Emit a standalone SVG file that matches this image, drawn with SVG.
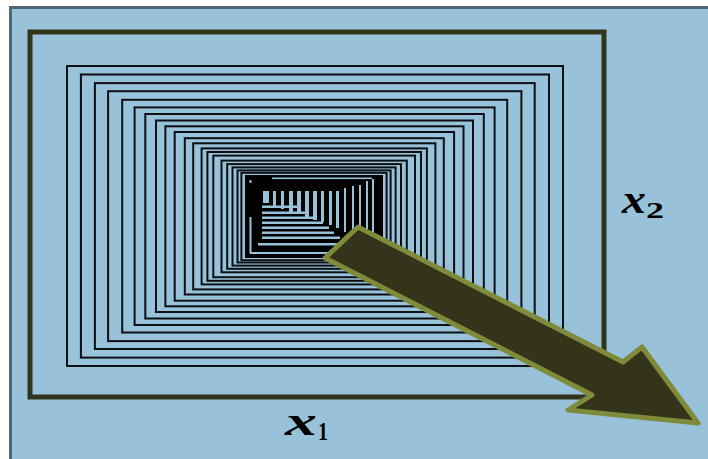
<svg xmlns="http://www.w3.org/2000/svg" width="708" height="459" viewBox="0 0 708 459">
<style>
.tun rect{fill:none;stroke:#0d0f12;stroke-width:2}
.lb{fill:#98c1da}
.lbl{font-family:"Liberation Serif","Times New Roman",serif;font-weight:bold;font-style:italic;fill:#000}
.sub{font-family:"Liberation Serif","Times New Roman",serif;font-weight:bold;fill:#000}
</style>
<rect width="708" height="459" fill="#ffffff"/>
<rect x="10" y="7" width="698" height="452" fill="#98c1da"/>
<path d="M10.5,459 V7.5 H708" stroke="#4f6878" stroke-width="3" fill="none"/>
<g id="frame">
<rect x="30" y="32" width="574" height="365" fill="none" stroke="#33351a" stroke-width="5"/>
</g>
<g id="tunnel" class="tun">
<rect x="67" y="66" width="496" height="300"/>
<rect x="80.9" y="74.5" width="468.1" height="283.1"/>
<rect x="94.9" y="83.1" width="439.8" height="265.9"/>
<rect x="108.1" y="91.2" width="413.3" height="249.9"/>
<rect x="122.2" y="99.8" width="385" height="232.7"/>
<rect x="134.6" y="107.4" width="360" height="217.6"/>
<rect x="145.3" y="114" width="338.5" height="204.5"/>
<rect x="156" y="120.5" width="317" height="191.5"/>
<rect x="165.4" y="126.3" width="298.1" height="180"/>
<rect x="174.7" y="132" width="279.4" height="168.7"/>
<rect x="184.8" y="138.2" width="259" height="156.3"/>
<rect x="193.2" y="143.3" width="242.2" height="146.1"/>
<rect x="201.6" y="148.4" width="225.3" height="136"/>
<rect x="207.4" y="152" width="213.6" height="128.8"/>
<rect x="213.3" y="155.6" width="201.7" height="121.6"/>
<rect x="221.5" y="160.6" width="185.3" height="111.7"/>
<rect x="227.2" y="164.1" width="173.8" height="104.7"/>
<rect x="232.5" y="167.4" width="163.1" height="98.2"/>
<rect x="237.5" y="170.4" width="153.1" height="92.1"/>
<rect x="241.4" y="172.8" width="145.2" height="87.4"/>
</g>
<g id="core">
<rect x="245" y="175" width="138" height="83" fill="#000"/>
<rect class="lb" x="272" y="177.5" width="100" height="1.6"/>
<rect class="lb" x="249.5" y="180" width="2" height="3"/>
<rect class="lb" x="344" y="188" width="2" height="44"/>
<rect class="lb" x="352" y="186" width="2" height="49"/>
<rect class="lb" x="359" y="185" width="2" height="53"/>
<rect class="lb" x="366" y="181" width="2" height="62"/>
<rect class="lb" x="372" y="179" width="2" height="71"/>
<rect class="lb" x="263" y="191" width="6" height="12"/>
<rect class="lb" x="273" y="191" width="3" height="15"/>
<rect class="lb" x="281" y="191" width="3" height="18"/>
<rect class="lb" x="289" y="191" width="4" height="21"/>
<rect class="lb" x="297" y="191" width="4" height="23"/>
<rect class="lb" x="305" y="191" width="4" height="26"/>
<rect class="lb" x="313" y="191" width="4" height="29"/>
<rect class="lb" x="321" y="191" width="3" height="31"/>
<rect class="lb" x="329" y="191" width="3" height="34"/>
<rect class="lb" x="336" y="191" width="3" height="37"/>
<rect class="lb" x="262" y="205.5" width="36" height="2.5"/>
<rect class="lb" x="262" y="211.5" width="46" height="2.5"/>
<rect class="lb" x="262" y="216.5" width="54" height="2.5"/>
<rect class="lb" x="262" y="221.5" width="61" height="2.5"/>
<rect class="lb" x="262" y="226.5" width="67" height="2.5"/>
<rect class="lb" x="262" y="231.5" width="72" height="2.5"/>
<rect class="lb" x="262" y="236.5" width="78" height="2.5"/>
<rect class="lb" x="258" y="243" width="86" height="2.5"/>
<rect class="lb" x="249.5" y="217" width="2" height="36"/>
<rect class="lb" x="250" y="252" width="95" height="2"/>
</g>
<g id="arrow">
<polygon points="358,227 623,362 642,347 698,423 568,410 592,395 325,258" fill="#33341a" stroke="#7f8b3b" stroke-width="5" stroke-linejoin="round"/>
</g>
<g id="label-x2">
<text class="lbl" x="622" y="213" font-size="40" textLength="24" lengthAdjust="spacingAndGlyphs">x</text>
<text class="sub" x="646" y="218" font-size="24" textLength="18" lengthAdjust="spacingAndGlyphs">2</text>
</g>
<g id="label-x1">
<text class="lbl" x="285" y="435" font-size="40" textLength="32" lengthAdjust="spacingAndGlyphs">x</text>
<text class="sub" x="318" y="440" font-size="25" textLength="10" lengthAdjust="spacingAndGlyphs">1</text>
</g>
</svg>
